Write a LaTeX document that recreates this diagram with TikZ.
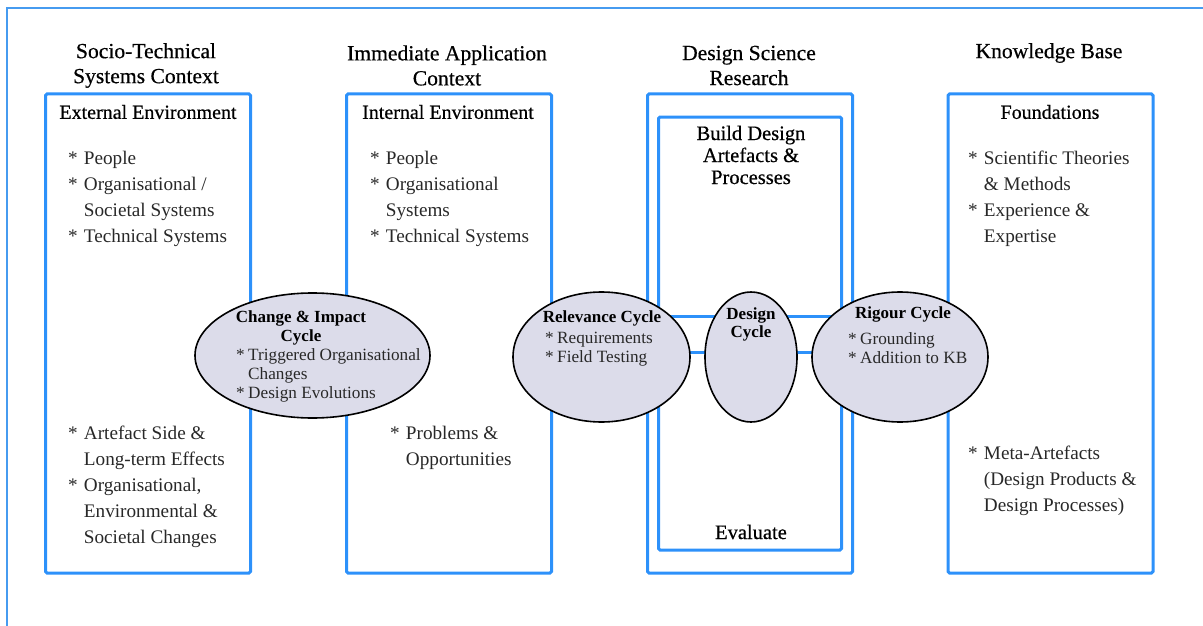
\documentclass[tikz,border=0pt]{standalone}
\usepackage{fontspec}
\setmainfont{Liberation Serif}
\newfontfamily\headfont[FakeBold=0.5]{Liberation Serif}
\usepackage{tikz}
\usetikzlibrary{shapes, positioning}
\definecolor{dsrblue}{RGB}{45,145,250}
\definecolor{framec}{RGB}{70,155,240}
\definecolor{cyclefill}{RGB}{220,220,234}
\definecolor{itemc}{RGB}{40,40,40}
\newcommand{\itm}[1][0.82em]{\makebox[#1][l]{*}}
\newcommand{\cnt}[1][0.82em]{\hspace*{#1}}
\tikzstyle{envbox} = [draw=dsrblue, line width=3pt, rounded corners=1.5pt, inner sep=0pt]
\tikzstyle{cyc} = [ellipse, draw, fill=cyclefill, line width=1.6pt, inner sep=0pt]
\tikzstyle{bline} = [draw=dsrblue, line width=3pt]
\tikzstyle{title} = [align=center, inner sep=0pt, font=\headfont\fontsize{21.6}{25}\selectfont]
\tikzstyle{head} = [align=center, inner sep=0pt, font=\headfont\fontsize{20}{22}\selectfont]
\tikzstyle{items} = [align=left, anchor=north west, inner sep=0pt, text=itemc, font=\fontsize{19.2}{26}\selectfont]
\tikzstyle{ctitle} = [align=center, anchor=north, inner sep=0pt, font=\fontsize{17}{19}\selectfont\bfseries]
\tikzstyle{citems} = [align=left, anchor=north west, inner sep=0pt, text=itemc, font=\fontsize{17.2}{19}\selectfont]

\begin{document}
\begin{tikzpicture}[x=1pt, y=-1pt]
	\useasboundingbox (0,0) rectangle (1203,626);
	% frame edges
	\draw [framec, line width=1.2pt] (1203,8) -- (7,8) -- (7,626);

	% column titles
	\node [title] (t1) at (146,65.5) {Socio-Technical\\Systems Context};
	\node [title] (t2) at (447,65.5) {Immediate Application\\Context};
	\node [title] (t3) at (749,65.5) {Design Science\\Research};
	\node [title] (t4) at (1049,53) {Knowledge Base};

	% boxes
	\node [envbox, minimum width=205pt, minimum height=479pt] (ext) at (148,333.5) {};
	\node [envbox, minimum width=205pt, minimum height=479pt] (int) at (449,333.5) {};
	\node [envbox, minimum width=205pt, minimum height=479pt] (dsr) at (750,333.5) {};
	\node [envbox, minimum width=183pt, minimum height=433pt] (build) at (750,333.5) {};
	\node [envbox, minimum width=205pt, minimum height=479pt] (kb) at (1050.5,333.5) {};

	% box texts
	\node [head] (h1) at (148,112) {External Environment};
	\node [head] (h2) at (448,112) {Internal Environment};
	\node [head] (h4) at (1050,112) {Foundations};
	\node [head, font=\headfont\fontsize{20.5}{22}\selectfont] (bd) at (751,155) {Build Design\\Artefacts \&\\Processes};
	\node [head, font=\headfont\fontsize{20.5}{22}\selectfont] (ev) at (751,532) {Evaluate};

	\node [items] (i1a) at (68,151) {\itm People\\\itm Organisational /\\\cnt Societal Systems\\\itm Technical Systems};
	\node [items] (i1b) at (68,426) {\itm Artefact Side \&\\\cnt Long-term Effects\\\itm Organisational,\\\cnt Environmental \&\\\cnt Societal Changes};
	\node [items] (i2a) at (370,151) {\itm People\\\itm Organisational\\\cnt Systems\\\itm Technical Systems};
	\node [items] (i2b) at (390,426) {\itm Problems \&\\\cnt Opportunities};
	\node [items] (i4a) at (968,151) {\itm Scientific Theories\\\cnt \& Methods\\\itm Experience \&\\\cnt Expertise};
	\node [items] (i4b) at (968,446) {\itm Meta-Artefacts\\\cnt (Design Products \&\\\cnt Design Processes)};

	% cycles
	\coordinate (relc) at (601.5,357);
	\coordinate (rigc) at (900,357);
	\path [bline] ([yshift=41pt]relc) -- ([yshift=41pt]rigc);
	\path [bline] ([yshift=5pt]relc) -- ([yshift=5pt]rigc);

	\node [cyc, minimum width=235pt, minimum height=125pt] (chg) at (312.5,355.5) {};
	\node [cyc, minimum width=177pt, minimum height=130pt] (rel) at (relc) {};
	\node [cyc, minimum width=92pt, minimum height=130pt] (dc) at (751,357) {};
	\node [cyc, minimum width=176pt, minimum height=130pt] (rig) at (rigc) {};

	\node [ctitle] (chgt) at (301,311) {Change \& Impact\\Cycle};
	\node [citems] (chgi) at (236,348) {\itm[0.7em]Triggered Organisational\\\cnt[0.7em]Changes\\\itm[0.7em]Design Evolutions};
	\node [ctitle] (relt) at (602,311) {Relevance Cycle};
	\node [citems] (reli) at (545,332) {\itm[0.7em]Requirements\\\itm[0.7em]Field Testing};
	\node [ctitle, font=\fontsize{17}{18}\selectfont\bfseries] (dct) at (751,308) {Design\\Cycle};
	\node [ctitle] (rigt) at (903,307) {Rigour Cycle};
	\node [citems] (rigi) at (848,332) {\itm[0.7em]Grounding\\\itm[0.7em]Addition to KB};
\end{tikzpicture}
\end{document}
